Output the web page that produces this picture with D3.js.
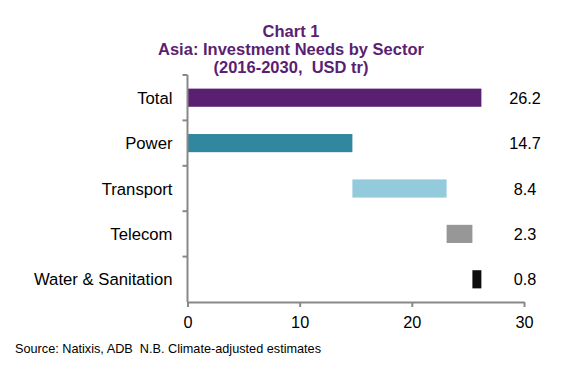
<!DOCTYPE html>
<html>
<head>
<meta charset="utf-8">
<script src="https://cdn.jsdelivr.net/npm/d3@7"></script>
<style>
  body { margin: 0; background: #fff; }
  svg { display: block; font-family: "Liberation Sans", Arial, sans-serif; }
</style>
</head>
<body>
<div id="chart"></div>
<script>
// Waterfall: sector needs (USD tr), total first
const categories = ["Total", "Power", "Transport", "Telecom", "Water & Sanitation"];
const values     = [26.2, 14.7, 8.4, 2.3, 0.8];
const colors     = ["#5b1f72", "#31879e", "#93cbdc", "#979797", "#0d0d0d"];
const xTicks     = [0, 10, 20, 30];
const titleLines = ["Chart 1", "Asia: Investment Needs by Sector", "(2016-2030,\u00a0 USD tr)"];
const sourceText = "Source: Natixis, ADB\u00a0 N.B. Climate-adjusted estimates";

const W = 582, H = 369;
const M = { left: 187.5, right: 58, top: 75, bottom: 67 };
const iW = W - M.left - M.right;
const iH = H - M.top - M.bottom;

// start of each bar: total from 0, sectors stacked one after another
let run = 0;
const data = categories.map((c, i) => {
  let start = 0;
  if (i > 0) { start = run; run += values[i]; }
  return { cat: c, start: start, end: start + values[i], v: values[i], color: colors[i] };
});

const svg = d3.select("#chart").append("svg")
  .attr("width", W).attr("height", H);

// title
svg.append("g").selectAll("text").data(titleLines).join("text")
  .attr("x", 291).attr("y", (d, i) => 37 + i * 18.2)
  .attr("text-anchor", "middle")
  .attr("fill", "#5b1f72").attr("font-weight", "bold").attr("font-size", 16.5)
  .text(d => d);

const g = svg.append("g").attr("transform", `translate(${M.left},${M.top})`);

const x = d3.scaleLinear().domain([0, 30]).range([0, iW]);
const y = d3.scaleBand().domain(categories).range([0, iH])
  .paddingInner(0.6).paddingOuter(0.3);

// bars
g.selectAll(".bar").data(data).join("rect")
  .attr("x", d => x(d.start)).attr("width", d => x(d.end) - x(d.start))
  .attr("y", d => y(d.cat)).attr("height", y.bandwidth())
  .attr("fill", d => d.color);

// value labels on the right
g.selectAll(".val").data(data).join("text")
  .attr("x", x(30) + 1).attr("y", d => y(d.cat) + y.bandwidth() / 2 + 6)
  .attr("text-anchor", "middle").attr("font-size", 16.3).attr("fill", "#000")
  .text(d => d.v.toFixed(1));

// y axis: line with ticks between categories
const yAx = g.append("g");
yAx.append("line").attr("x1", 0).attr("x2", 0).attr("y1", 0).attr("y2", iH)
  .attr("stroke", "#888").attr("stroke-width", 2);
const step = y.step();
yAx.selectAll(".yt").data(d3.range(categories.length)).join("line")
  .attr("x1", -5).attr("x2", 0)
  .attr("y1", i => i * step).attr("y2", i => i * step)
  .attr("stroke", "#888").attr("stroke-width", 2);
yAx.selectAll(".ylab").data(categories).join("text")
  .attr("x", -15).attr("y", d => y(d) + y.bandwidth() / 2 + 6)
  .attr("text-anchor", "end").attr("font-size", 16.7).attr("fill", "#000")
  .text(d => d);

// x axis
g.append("g").attr("transform", `translate(0,${iH})`)
  .call(d3.axisBottom(x).tickValues(xTicks).tickSize(5).tickSizeOuter(0).tickFormat(d3.format("d")))
  .call(a => a.select(".domain").attr("stroke", "#888").attr("stroke-width", 2))
  .call(a => a.selectAll(".tick line").attr("stroke", "#888").attr("stroke-width", 2))
  .call(a => a.selectAll("text").attr("fill", "#000").attr("font-size", 16.3)
    .attr("font-family", "'Liberation Sans', Arial, sans-serif").attr("dy", "1.1em"));

// source note
svg.append("text").attr("x", 15).attr("y", 353)
  .attr("font-size", 12.7).attr("fill", "#000")
  .text(sourceText);
</script>
</body>
</html>
